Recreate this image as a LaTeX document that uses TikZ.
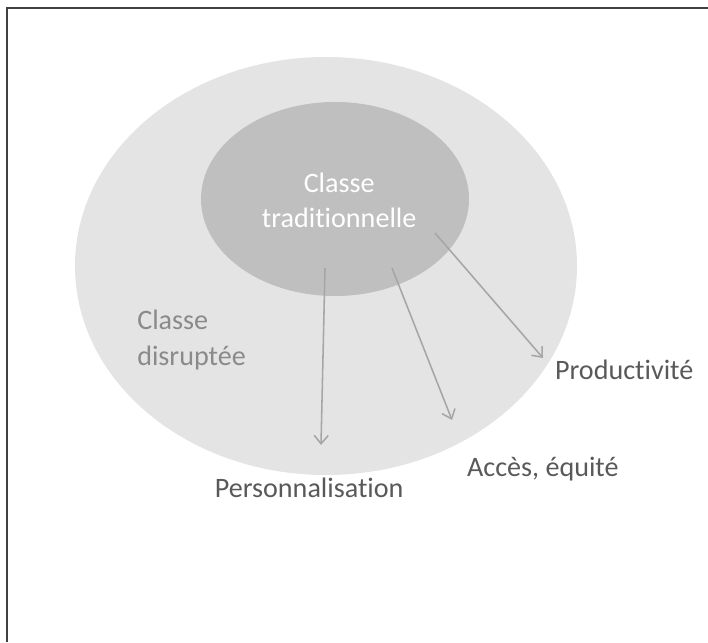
\documentclass[tikz,border=0pt]{standalone}
\usepackage{fontspec}
\setmainfont{Carlito}[Ligatures=NoCommon]
\usetikzlibrary{arrows.meta}
\definecolor{outergray}{RGB}{228,228,228}
\definecolor{innergray}{RGB}{191,191,191}
\definecolor{arrowgray}{RGB}{166,166,166}
\definecolor{textgray}{RGB}{89,89,89}
\definecolor{softgray}{RGB}{138,138,138}

\begin{document}
\begin{tikzpicture}[
    lbl/.style = {text=textgray, inner sep=0pt, font=\fontsize{20}{25}\selectfont},
    arr/.style = {arrowgray, line width=1.1pt, -{Straight Barb[length=6pt,width=10pt]}}
]
    \useasboundingbox (0,0) rectangle (17.7,16.05);
    % frame, only top and left edges show
    \draw [line width=1.4pt, black!75] (0.175,0) -- (0.175,15.85) -- (17.7,15.85);

    \fill [outergray] (8.15,9.4) ellipse (6.275 and 5.225);
    \fill [innergray] (8.375,11.075) ellipse (3.35 and 2.425);

    \node [lbl, text=white, align=center] (trad) at (8.48,11.05) {Classe\\traditionnelle};
    \node [lbl, text=softgray, align=left, anchor=west] (disr) at (3.425,7.55) {Classe\\disruptée};
    \node [lbl, anchor=west] (prod) at (13.87,6.8) {Productivité};
    \node [lbl, anchor=west] (acces) at (11.67,4.33) {Accès, équité};
    \node [lbl] (perso) at (7.73,3.85) {Personnalisation};

    % arrows leave the inner ellipse
    \coordinate (s1) at (8.125,9.35);
    \coordinate (e1) at (8.025,4.925);
    \coordinate (s2) at (9.8,9.35);
    \coordinate (e2) at (11.3,5.55);
    \coordinate (s3) at (10.875,10.225);
    \coordinate (e3) at (13.575,7.1);
    \draw [arr] (s1) -- (e1);
    \draw [arr] (s2) -- (e2);
    \draw [arr] (s3) -- (e3);
\end{tikzpicture}
\end{document}
